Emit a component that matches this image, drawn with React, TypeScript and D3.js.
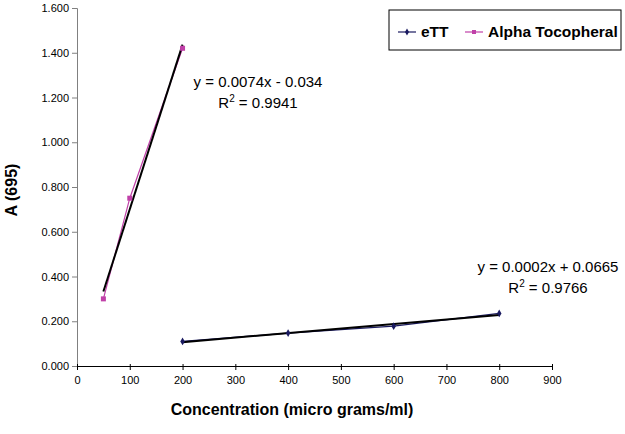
import { useRef, useEffect } from "react";
import * as d3 from "d3";

// eTT readings
const ettX = [200, 400, 600, 800];
const ettY = [0.11, 0.147, 0.178, 0.235];
// Alpha Tocopheral readings
const alphaX = [50, 100, 200];
const alphaY = [0.3, 0.75, 1.42];

const yTicks = [0, 0.2, 0.4, 0.6, 0.8, 1.0, 1.2, 1.4, 1.6];
const xTicks = [0, 100, 200, 300, 400, 500, 600, 700, 800, 900];
const eqAlpha = ["y = 0.0074x - 0.034", "0.9941"];
const eqEtt = ["y = 0.0002x + 0.0665", "0.9766"];

const W = 625;
const H = 434;
const FONT = "Arial, 'Liberation Sans', sans-serif";

// least squares fit, used for the trendlines
function fit(xs: number[], ys: number[]) {
  const mx = d3.mean(xs)!;
  const my = d3.mean(ys)!;
  let num = 0;
  let den = 0;
  xs.forEach((x, i) => {
    num += (x - mx) * (ys[i] - my);
    den += (x - mx) * (x - mx);
  });
  const b = num / den;
  return { b, a: my - b * mx };
}

export default function App() {
  const svgRef = useRef<SVGSVGElement>(null);

  useEffect(() => {
    const svg = d3.select(svgRef.current);
    svg.selectAll("*").remove();

    const x = d3.scaleLinear().domain([0, 900]).range([77, 552]);
    const y = d3.scaleLinear().domain([0, 1.6]).range([366, 8]);

    // y axis
    const yAxis = svg.append("g").attr("transform", "translate(77,0)");
    yAxis
      .call(
        d3
          .axisLeft(y)
          .tickValues(yTicks)
          .tickFormat(d3.format(".3f"))
          .tickSize(5)
          .tickPadding(3)
      )
      .call((g) => g.select(".domain").attr("stroke", "#808080"))
      .call((g) => g.selectAll(".tick line").attr("stroke", "#808080"))
      .call((g) =>
        g
          .selectAll("text")
          .attr("font-family", FONT)
          .attr("font-size", 11)
          .attr("fill", "#000")
      );

    // x axis
    const xAxis = svg.append("g").attr("transform", "translate(0,366)");
    xAxis
      .call(d3.axisBottom(x).tickValues(xTicks).tickSizeOuter(0).tickSize(4).tickPadding(6))
      .call((g) => g.select(".domain").attr("stroke", "#000"))
      .call((g) => g.selectAll(".tick line").attr("y1", -2))
      .call((g) =>
        g
          .selectAll("text")
          .attr("font-family", FONT)
          .attr("font-size", 11)
          .attr("fill", "#000")
      );

    // axis titles
    svg
      .append("text")
      .attr("x", 292)
      .attr("y", 415)
      .attr("text-anchor", "middle")
      .attr("font-family", FONT)
      .attr("font-size", 16)
      .attr("font-weight", "bold")
      .text("Concentration (micro grams/ml)");
    svg
      .append("text")
      .attr("transform", "translate(17,190) rotate(-90)")
      .attr("text-anchor", "middle")
      .attr("font-family", FONT)
      .attr("font-size", 16)
      .attr("font-weight", "bold")
      .text("A (695)");

    const lineGen = d3
      .line<[number, number]>()
      .x((d) => x(d[0]))
      .y((d) => y(d[1]));

    // series
    const ettPts = ettX.map((v, i) => [v, ettY[i]] as [number, number]);
    const alphaPts = alphaX.map((v, i) => [v, alphaY[i]] as [number, number]);

    svg
      .append("path")
      .attr("d", lineGen(alphaPts))
      .attr("fill", "none")
      .attr("stroke", "#c040a8")
      .attr("stroke-width", 1.2);
    svg
      .append("path")
      .attr("d", lineGen(ettPts))
      .attr("fill", "none")
      .attr("stroke", "#1a1a60")
      .attr("stroke-width", 1.2);

    // trendlines
    [
      { xs: alphaX, ys: alphaY },
      { xs: ettX, ys: ettY },
    ].forEach(({ xs, ys }) => {
      const { a, b } = fit(xs, ys);
      const x0 = d3.min(xs)!;
      const x1 = d3.max(xs)!;
      svg
        .append("path")
        .attr(
          "d",
          lineGen([
            [x0, a + b * x0],
            [x1, a + b * x1],
          ])
        )
        .attr("stroke", "#000")
        .attr("stroke-width", 2)
        .attr("fill", "none");
    });

    // markers
    svg
      .selectAll(".alpha-pt")
      .data(alphaPts)
      .join("rect")
      .attr("x", (d) => x(d[0]) - 2.5)
      .attr("y", (d) => y(d[1]) - 2.5)
      .attr("width", 5)
      .attr("height", 5)
      .attr("fill", "#c040a8");
    svg
      .selectAll(".ett-pt")
      .data(ettPts)
      .join("path")
      .attr("d", d3.symbol(d3.symbolDiamond, 18))
      .attr("transform", (d) => `translate(${x(d[0])},${y(d[1])})`)
      .attr("fill", "#1a1a60");

    // equations
    const eq = (cx: number, cy: number, lines: string[]) => {
      svg
        .append("text")
        .attr("x", cx)
        .attr("y", cy)
        .attr("text-anchor", "middle")
        .attr("font-family", FONT)
        .attr("font-size", 15)
        .text(lines[0]);
      const t = svg
        .append("text")
        .attr("x", cx)
        .attr("y", cy + 21)
        .attr("text-anchor", "middle")
        .attr("font-family", FONT)
        .attr("font-size", 15);
      t.append("tspan").text("R");
      t.append("tspan").attr("dy", -6).attr("font-size", 10).text("2");
      t.append("tspan").attr("dy", 6).text(" = " + lines[1]);
    };
    eq(258, 87, eqAlpha);
    eq(548, 272, eqEtt);

    // legend
    const lg = svg.append("g");
    lg.append("rect")
      .attr("x", 389)
      .attr("y", 10)
      .attr("width", 232)
      .attr("height", 40)
      .attr("fill", "#fff")
      .attr("stroke", "#000")
      .attr("stroke-width", 1);
    const items = [
      { label: "eTT", c: "#1a1a60", x: 398, diamond: true },
      { label: "Alpha Tocopheral", c: "#c040a8", x: 465, diamond: false },
    ];
    items.forEach((it) => {
      lg.append("line")
        .attr("x1", it.x)
        .attr("x2", it.x + 18)
        .attr("y1", 32)
        .attr("y2", 32)
        .attr("stroke", it.c)
        .attr("stroke-width", 1.2);
      if (it.diamond) {
        lg.append("path")
          .attr("d", d3.symbol(d3.symbolDiamond, 14))
          .attr("transform", `translate(${it.x + 9},32)`)
          .attr("fill", it.c);
      } else {
        lg.append("rect")
          .attr("x", it.x + 7)
          .attr("y", 30)
          .attr("width", 4)
          .attr("height", 4)
          .attr("fill", it.c);
      }
      lg.append("text")
        .attr("x", it.x + 23)
        .attr("y", 37)
        .attr("font-family", FONT)
        .attr("font-size", 15.5)
        .attr("font-weight", "bold")
        .text(it.label);
    });
  }, []);

  return (
    <svg
      ref={svgRef}
      width={W}
      height={H}
      style={{ position: "absolute", left: 0, top: 0, background: "#fff" }}
    />
  );
}
